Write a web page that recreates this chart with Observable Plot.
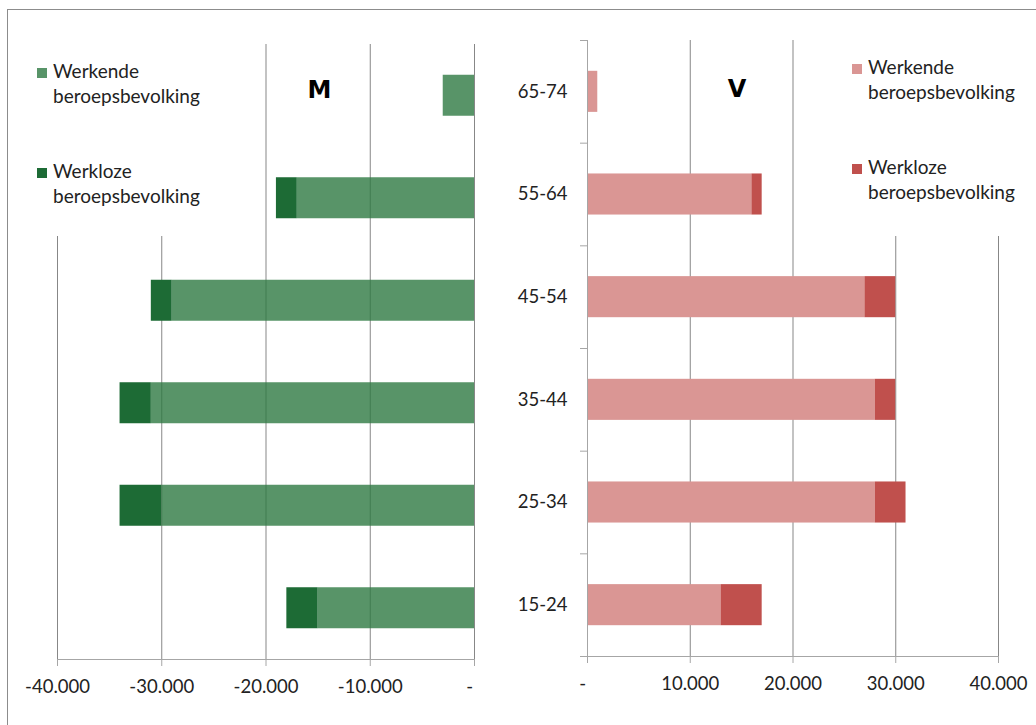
<!DOCTYPE html>
<html><head><meta charset="utf-8">
<script src="https://cdn.jsdelivr.net/npm/d3@7"></script>
<script src="https://cdn.jsdelivr.net/npm/@observablehq/plot@0.6"></script>
<style>
html,body{margin:0;padding:0;background:#fff;}
#chart{position:relative;width:1036px;height:725px;overflow:hidden;font-family:Lato,sans-serif;color:#222;}
#chart svg{position:absolute;left:0;top:0;}
.frame{position:absolute;left:7px;top:9px;right:-5px;bottom:-5px;border-top:1px solid #8c8c8c;border-left:1px solid #8c8c8c;}
.leg{position:absolute;font-size:19px;line-height:25px;white-space:nowrap;}
.sw{position:absolute;width:10px;height:10px;}
.ttl{position:absolute;width:60px;text-align:center;font-family:"DejaVu Sans",sans-serif;font-weight:bold;font-size:24px;line-height:24px;color:#000;}
</style></head><body><div id="chart"><div class="frame"></div></div>
<script>
// ---- data ----
const categories = ["65-74", "55-64", "45-54", "35-44", "25-34", "15-24"];
const seriesNames = ["Werkende beroepsbevolking", "Werkloze beroepsbevolking"];
const menWerkend   = [3000, 17000, 29000, 31000, 30000, 15000];
const menWerkloos  = [0,     2000,  2000,  3000,  4000,  3000];
const vrouwWerkend = [1000, 16000, 27000, 28000, 28000, 13000];
const vrouwWerkloos= [0,     1000,  3000,  2000,  3000,  4000];
const menTicks   = [-40000, -30000, -20000, -10000, 0];
const vrouwTicks = [0, 10000, 20000, 30000, 40000];
const panelTitles = ["M", "V"];

// ---- build ----
const menRows = categories.flatMap((c, i) => [
  {age: c, type: seriesNames[0], value: -menWerkend[i]},
  {age: c, type: seriesNames[1], value: -menWerkloos[i]}
]);
const vrouwRows = categories.flatMap((c, i) => [
  {age: c, type: seriesNames[0], value: vrouwWerkend[i]},
  {age: c, type: seriesNames[1], value: vrouwWerkloos[i]}
]);

const nl = d3.formatLocale({decimal: ",", thousands: ".", grouping: [3], currency: ["€", ""], minus: "-"});
const f = nl.format(",");
const fmt = d => d === 0 ? "-\u00a0\u00a0" : f(d);

const gridColor = "#878787";
const axisColor = "#a6a6a6";
const textColor = "#222";
const menColors = ["#2e7942", "#1d6b35"];
const vrouwColors = ["#da9694", "#c0504d"];
const style = {fontFamily: "Lato, sans-serif", fontSize: "18.5px", background: "transparent", overflow: "visible"};

const W = 1036, H = 725;

// Left panel (M)
const mTop = 44, mBottom = 66;
const left = Plot.plot({
  width: W, height: H,
  marginLeft: 57, marginRight: W - 474, marginTop: mTop, marginBottom: mBottom,
  x: {domain: [-40000, 0], axis: null},
  y: {domain: categories, paddingInner: 0.6, paddingOuter: 0.3, round: false, axis: null},
  color: {domain: seriesNames, range: menColors},
  style,
  marks: [
    Plot.ruleX(menTicks.filter(d => d < -20000), {stroke: gridColor, insetTop: 236 - mTop}),
    Plot.ruleX(menTicks.filter(d => d >= -20000), {stroke: gridColor}),
    Plot.barX(menRows, {x: "value", y: "age", fill: "type", fillOpacity: d => d.type === seriesNames[0] ? 0.8 : 1, inset: 0}),
    Plot.frame({anchor: "bottom", stroke: axisColor}),
    Plot.axisX({ticks: menTicks, tickFormat: fmt, tickSize: 7, tickPadding: 13, stroke: axisColor, fill: textColor, label: null})
  ]
});

// Right panel (V)
const vTop = 40, vBottom = 69;
const step = (H - vTop - vBottom) / categories.length;
const right = Plot.plot({
  width: W, height: H,
  marginLeft: 587, marginRight: W - 998, marginTop: vTop, marginBottom: vBottom,
  x: {domain: [0, 40000], axis: null},
  y: {domain: categories, paddingInner: 0.6, paddingOuter: 0.3, round: false, axis: null},
  color: {domain: seriesNames, range: vrouwColors},
  style,
  marks: [
    Plot.ruleX(vrouwTicks.filter(d => d > 0 && d < 30000), {stroke: gridColor}),
    Plot.ruleX(vrouwTicks.filter(d => d >= 30000), {stroke: gridColor, insetTop: 236 - vTop}),
    Plot.barX(vrouwRows, {x: "value", y: "age", fill: "type", inset: 0}),
    Plot.ruleX([0], {stroke: axisColor}),
    Plot.frame({anchor: "bottom", stroke: axisColor}),
    Plot.axisX({ticks: vrouwTicks, tickFormat: fmt, tickSize: 7, tickPadding: 13, stroke: axisColor, fill: textColor, label: null}),
    Plot.axisY({tickSize: 0, tickPadding: 20, fill: textColor, label: null}),
    Plot.axisY({text: null, tickSize: 7, dy: -step / 2, stroke: axisColor, label: null}),
    Plot.axisY({ticks: [categories[categories.length - 1]], text: null, tickSize: 7, dy: step / 2, stroke: axisColor, label: null})
  ]
});

const chart = document.getElementById("chart");
chart.appendChild(left);
chart.appendChild(right);

// legends + panel titles (HTML)
function legend(x, tops, colors) {
  seriesNames.forEach((name, i) => {
    const sw = document.createElement("div");
    sw.className = "sw";
    sw.style.left = x + "px";
    sw.style.top = (tops[i] + 10) + "px";
    sw.style.background = colors[i];
    if (colors === menColors && i === 0) sw.style.opacity = 0.8;
    chart.appendChild(sw);
    const t = document.createElement("div");
    t.className = "leg";
    t.style.left = (x + 16) + "px";
    t.style.top = tops[i] + "px";
    const [a, b] = name.split(" ");
    t.innerHTML = a + "<br>" + b;
    chart.appendChild(t);
  });
}
legend(37, [58, 158], menColors);
legend(852, [54, 154], vrouwColors);

[[289.5, 78], [707, 77]].forEach(([x, y], i) => {
  const d = document.createElement("div");
  d.className = "ttl";
  d.style.left = x + "px";
  d.style.top = y + "px";
  d.textContent = panelTitles[i];
  chart.appendChild(d);
});
</script>
</body></html>
